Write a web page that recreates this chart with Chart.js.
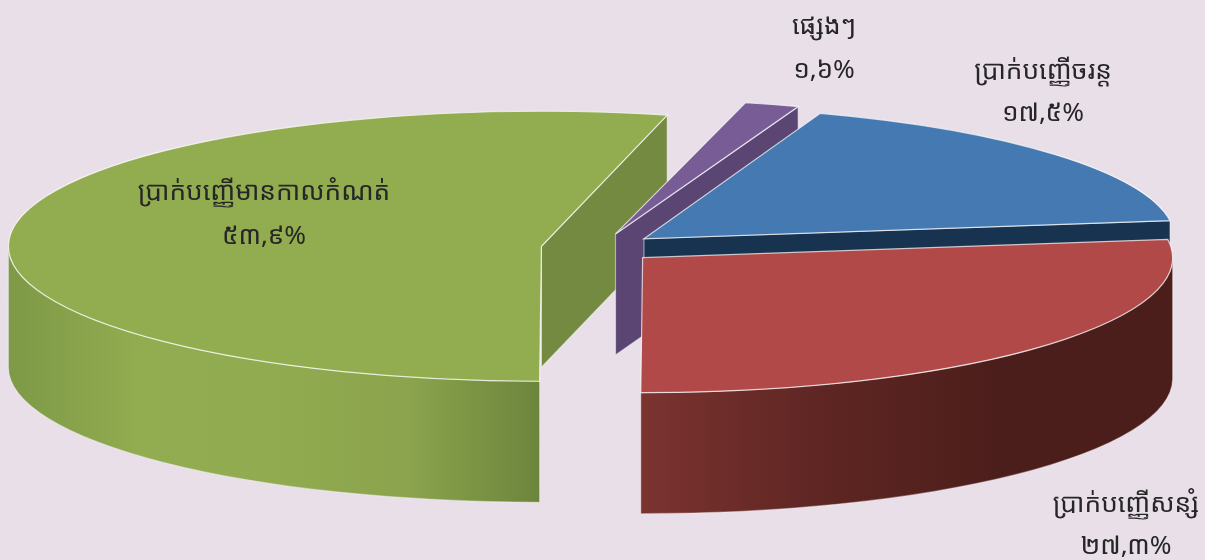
<!DOCTYPE html>
<html><head><meta charset="utf-8">
<style>html,body{margin:0;padding:0;background:#e9dfe9;overflow:hidden}canvas{display:block}</style>
<script src="https://cdn.jsdelivr.net/npm/chart.js@4"></script>
</head><body><canvas id="c" width="1205" height="560"></canvas>
<script>
const categories = ["ប្រាក់បញ្ញើចរន្ត","ប្រាក់បញ្ញើសន្សំ","ប្រាក់បញ្ញើមានកាលកំណត់","ផ្សេងៗ"];
const shares = [17.5, 27.3, 53.9, 1.6];
const shareLabels = ["១៧,៥%","២៧,៣%","៥៣,៩%","១,៦%"];
const topColors = ["#4579b1","#b04947","#92ac50","#785c96"];
const cutColors = ["#17334f","#4c1e1b","#748a41","#5b4673"];
const wallStops = [
  ["#17334f","#17334f"],
  ["#7b3330","#5f2623","#4c1e1b","#4c1e1b"],
  ["#7e9947","#92ac50","#91ab50","#8ba44d","#6c853c"],
  ["#5b4673","#5b4673"]
];
const labelX = [1043,1126,264,824];
const labelY1 = [72,505,193,27];
const labelY2 = [114,547,237,71];
const drawOrder = [2,3,0,1];
const CX=599, CY=248, TILT=0.253, EXPLODE=58, DEPTH=121;
const sliceRx = [531,530,533,550];
const sliceRy = [133,135,135,135];
const FONT = '26.2px "Noto Sans Khmer","Khmer OS","Noto Sans",sans-serif';

const pie3d = {
  id:'pie3d',
  beforeDatasetsDraw(chart){
    const ctx = chart.ctx, arcs = chart.getDatasetMeta(0).data;
    drawOrder.forEach(i=>{
      const el = arcs[i], a0 = el.startAngle, a1 = el.endAngle, mid=(a0+a1)/2;
      const rx = sliceRx[i], ry = sliceRy[i];
      const x = CX + Math.cos(mid)*EXPLODE, y = CY + Math.sin(mid)*EXPLODE*TILT;
      const rim = a=>[x+Math.cos(a)*rx, y+Math.sin(a)*ry];
      const stroke = (alpha)=>{ctx.strokeStyle='rgba(255,255,255,'+alpha+')';ctx.lineWidth=1.2;ctx.stroke();};
      const face = a=>{
        const p = rim(a);
        ctx.beginPath();ctx.moveTo(x,y);ctx.lineTo(p[0],p[1]);ctx.lineTo(p[0],p[1]+DEPTH);ctx.lineTo(x,y+DEPTH);ctx.closePath();
        ctx.fillStyle=cutColors[i];ctx.fill();stroke(0.5);
      };
      // outer wall: the part of the rim facing the viewer
      for(let k=0;k<2;k++){
        const s=Math.max(a0,2*Math.PI*k), e=Math.min(a1,2*Math.PI*k+Math.PI);
        if(e<=s) continue;
        const xa=Math.min(rim(s)[0],rim(e)[0]), xb=Math.max(rim(s)[0],rim(e)[0]);
        const grad=ctx.createLinearGradient(xa,0,xb,0);
        wallStops[i].forEach((c,n,l)=>grad.addColorStop(n/(l.length-1),c));
        ctx.beginPath();
        ctx.ellipse(x,y,rx,ry,0,s,e);
        ctx.ellipse(x,y+DEPTH,rx,ry,0,e,s,true);
        ctx.closePath();ctx.fillStyle=grad;ctx.fill();stroke(0.35);
      }
      if(Math.cos(a0)<-0.01) face(a0);
      if(Math.cos(a1)>0.01) face(a1);
      // top face: the library's arc element, in a tilted frame
      ctx.save();
      const sx=rx/el.outerRadius, sy=ry/el.outerRadius;
      ctx.translate(x,y);ctx.scale(sx,sy);ctx.translate(-el.x,-el.y);
      el.draw(ctx);
      ctx.restore();
      ctx.beginPath();ctx.moveTo(x,y);ctx.ellipse(x,y,rx,ry,0,a0,a1);ctx.closePath();stroke(0.7);
    });
    return false;
  },
  afterDraw(chart){
    const ctx=chart.ctx;
    ctx.save();ctx.font=FONT;ctx.fillStyle='#262626';ctx.textAlign='center';ctx.textBaseline='middle';
    categories.forEach((c,i)=>{ctx.fillText(c,labelX[i],labelY1[i]);ctx.fillText(shareLabels[i],labelX[i],labelY2[i]);});
    ctx.restore();
  }
};
new Chart(document.getElementById('c'),{
  type:'pie',
  data:{labels:categories,datasets:[{data:shares,backgroundColor:topColors,borderWidth:0}]},
  options:{responsive:false,animation:false,rotation:19.4,layout:{padding:0},
    plugins:{legend:{display:false},tooltip:{enabled:false}}},
  plugins:[pie3d]
});
</script></body></html>
